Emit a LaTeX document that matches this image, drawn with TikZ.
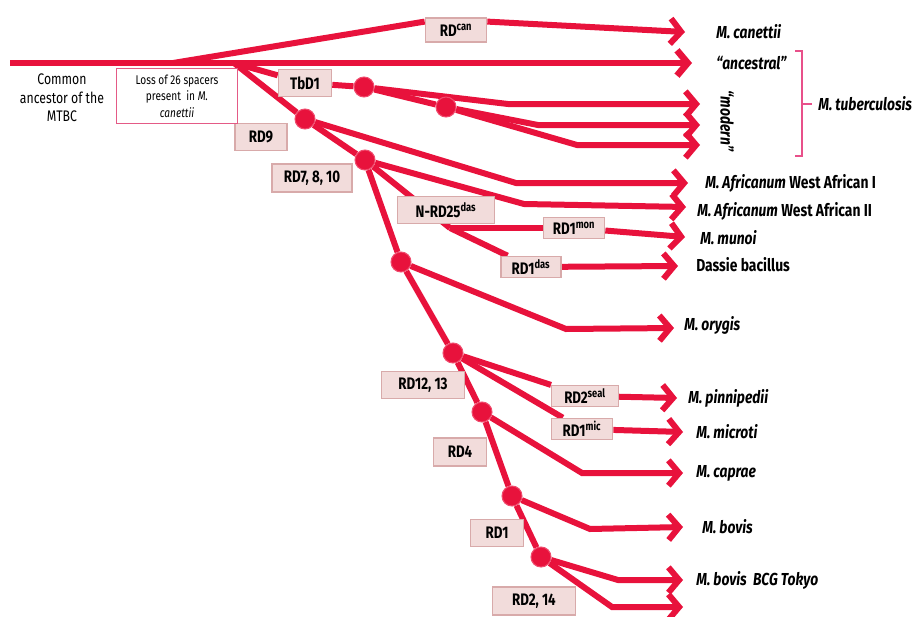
\documentclass[tikz,border=0pt]{standalone}
\usepackage{fontspec}
\setmainfont{Fira Sans}[FakeStretch=0.8]
\usetikzlibrary{arrows.meta,backgrounds}

\definecolor{mtbred}{HTML}{E8123C}
\definecolor{dotrim}{HTML}{F04C6E}
\definecolor{boxfill}{HTML}{F2DCDB}
\definecolor{boxedge}{HTML}{D8AAAA}
\definecolor{lossedge}{HTML}{E45A86}
\definecolor{brk}{HTML}{E8508A}

\tikzset{
  branch/.style={draw=mtbred, line width=4.5pt},
  tipped/.style={branch, -{Straight Barb[length=8pt,width=19pt]}},
  dot/.style={circle, fill=mtbred, draw=dotrim, line width=0.8pt, minimum size=15pt, inner sep=0pt},
  rdbox/.style={rectangle, fill=boxfill, draw=boxedge, line width=1pt, inner sep=1pt, font=\bfseries\fontsize{12.5}{12.5}\selectfont},
  lossbox/.style={rectangle, fill=white, draw=lossedge, line width=1.2pt, minimum width=91pt, minimum height=41pt, align=center, font=\fontsize{9.5}{12.5}\selectfont},
  taxon/.style={anchor=west, inner sep=0pt, font=\bfseries\fontsize{13}{13}\selectfont},
}

\begin{document}
\begin{tikzpicture}[x=0.75pt,y=-0.75pt]
\useasboundingbox (0,0) rectangle (917,617);

% ends and bends of the branches
\foreach \n/\x/\y in {root/10/63, fork0/173/63, fork1/234/63, eanc/692/63, ecan/685/32,
    bmod1/508/104, emod1/700/104, bmod2/538/125, emod2/700/125, bmod3/577/145, emod3/700/145,
    bafr1/516/183, eafr1/688/183, bafr2/524/204, eafr2/686/207, nj/450/228,
    emun/685/237, edas/678/266, bory/566/329, eory/674/328,
    epin/677/398, emic/683/432, bcap/582/473, ecap/683/473,
    bbov/590/529, ebov/683/527, bbcg/618/580, ebcg/683/580, blast/612/607, elast/683/607}
  \coordinate (\n) at (\x,\y);

% splitting points
\node[dot] (m1) at (364,87) {};
\node[dot] (m2) at (446,107) {};
\node[dot] (t1) at (305,119) {};
\node[dot] (t2) at (365,160) {};
\node[dot] (t3) at (401,262) {};
\node[dot] (t4) at (453,353) {};
\node[dot] (t5) at (482,412) {};
\node[dot] (t6) at (512,496) {};
\node[dot] (t7) at (541,557) {};

% deletions
\node[rdbox, minimum width=46pt, minimum height=18pt] (rdcan) at (456,30) {RD\textsuperscript{can}};
\node[rdbox, minimum width=40pt, minimum height=20pt] (tbd1) at (305,83) {TbD1};
\node[rdbox, minimum width=39pt, minimum height=20pt] (rd9) at (261,137) {RD9};
\node[rdbox, minimum width=60pt, minimum height=21pt] (rd7) at (312,178) {RD7, 8, 10};
\node[rdbox, minimum width=73pt, minimum height=20pt] (nrd25) at (446,210) {N-RD25\textsuperscript{das}};
\node[rdbox, minimum width=46pt, minimum height=16pt] (rdmon) at (574,228) {RD1\textsuperscript{mon}};
\node[rdbox, minimum width=45pt, minimum height=16pt] (rddas) at (531,267) {RD1\textsuperscript{das}};
\node[rdbox, minimum width=62pt, minimum height=20pt] (rd12) at (423,385) {RD12, 13};
\node[rdbox, minimum width=50pt, minimum height=16pt] (rdseal) at (585,396) {RD2\textsuperscript{seal}};
\node[rdbox, minimum width=46pt, minimum height=16pt] (rdmic) at (582,429) {RD1\textsuperscript{mic}};
\node[rdbox, minimum width=40pt, minimum height=21pt] (rd4) at (460,452) {RD4};
\node[rdbox, minimum width=40pt, minimum height=20pt] (rd1) at (497,533) {RD1};
\node[rdbox, minimum width=62pt, minimum height=21pt] (rd214) at (534,601) {RD2, 14};

\node[lossbox] (loss) at (177,96) {Loss of 26 spacers\\present~ in \textit{M.}\\\textit{canettii}};
\node[align=center, font=\fontsize{11.5}{14}\selectfont] (common) at (62,98) {Common\\ancestor of the\\MTBC};

% taxa
\node[taxon] (can) at (716,32) {\itshape M. canettii};
\node[taxon] (anc) at (716,63) {\itshape “ancestral”};
\node[taxon, anchor=center, rotate=-90] (mod) at (727,121) {\itshape “modern”};
\node[taxon] (mtb) at (818,104) {\itshape M. tuberculosis};
\node[taxon] (afr1) at (705,183) {\textit{M. Africanum} West African I};
\node[taxon] (afr2) at (697,211) {\textit{M. Africanum} West African II};
\node[taxon] (mun) at (700,238) {\itshape M. munoi};
\node[taxon] (das) at (696,265) {Dassie bacillus};
\node[taxon] (ory) at (684,325) {\itshape M. orygis};
\node[taxon] (pin) at (688,398) {\itshape M. pinnipedii};
\node[taxon] (mic) at (696,432) {\itshape M. microti};
\node[taxon] (cap) at (696,473) {\itshape M. caprae};
\node[taxon] (bov) at (702,527) {\itshape M. bovis};
\node[taxon] (bcg) at (696,580) {\itshape M. bovis~ BCG Tokyo};

\draw[brk, line width=2pt] (795,51) -- (802,51) -- (802,156) -- (795,156)
  (802,104) -- (812,104);

\begin{pgfonlayer}{background}
\draw[tipped, line width=5pt] (root) -- (eanc);
\draw[branch] (fork0) -- (rdcan.165);
\draw[tipped] (rdcan.15) -- (ecan);
\draw[branch]
  (fork1) edge (tbd1)
  (tbd1) edge (m1)
  (m1) edge (m2)
  (fork1) edge (t1)
  (t1) edge (t2)
  (t2) edge (t3)
  (t3) edge (t4)
  (t4) edge (t5)
  (t5) edge (t6)
  (t6) edge (t7)
  (t2) edge (nj)
  (nj) edge (rdmon)
  (nj) edge (rddas)
  (t4) edge (rdseal)
  (t4) edge (rdmic);
\draw[tipped] (m1) -- (bmod1) -- (emod1);
\draw[tipped] (m2) -- (bmod2) -- (emod2);
\draw[tipped] (m2) -- (bmod3) -- (emod3);
\draw[tipped] (t1) -- (bafr1) -- (eafr1);
\draw[tipped] (t2) -- (bafr2) -- (eafr2);
\draw[tipped] (rdmon) -- (emun);
\draw[tipped] (rddas) -- (edas);
\draw[tipped] (t3) -- (bory) -- (eory);
\draw[tipped] (rdseal) -- (epin);
\draw[tipped] (rdmic) -- (emic);
\draw[tipped] (t5) -- (bcap) -- (ecap);
\draw[tipped] (t6) -- (bbov) -- (ebov);
\draw[tipped] (t7) -- (bbcg) -- (ebcg);
\draw[tipped] (t7) -- (blast) -- (elast);
\end{pgfonlayer}
\end{tikzpicture}
\end{document}
